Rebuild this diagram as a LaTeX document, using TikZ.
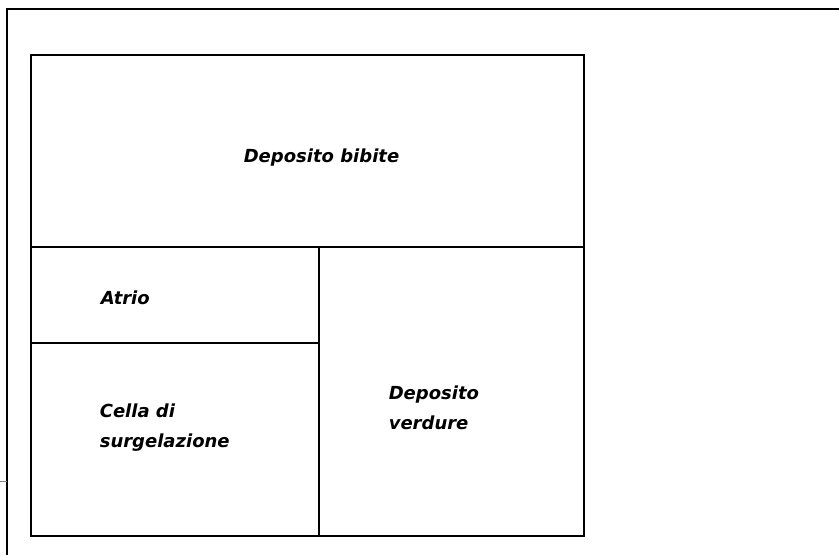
\documentclass[tikz,border=0pt]{standalone}
\usepackage{fontspec}
\newfontfamily\roomfont{DejaVu Sans}
\begin{document}
\begin{tikzpicture}[x=1pt,y=-1pt,line width=1.6pt]
\tikzset{room/.style={font=\roomfont\bfseries\itshape\fontsize{18}{30}\selectfont,anchor=west,align=left,inner sep=0pt}}
\useasboundingbox (0,0) rectangle (839,555);
\draw (7,555)--(7,9)--(839,9);
\draw[gray,line width=1pt] (0,481)--(7,481);
\draw (31,55) rectangle (584,536);
\draw (31,247)--(584,247);
\draw (319,247)--(319,536);
\draw (31,343)--(319,343);
\node[room] (bibite) at (243,158){Deposito bibite};
\node[room] (atrio) at (100,298){Atrio};
\node[room] (cella) at (99,428){Cella di\\surgelazione};
\node[room] (verdure) at (388,408){Deposito\\verdure};
\end{tikzpicture}
\end{document}
